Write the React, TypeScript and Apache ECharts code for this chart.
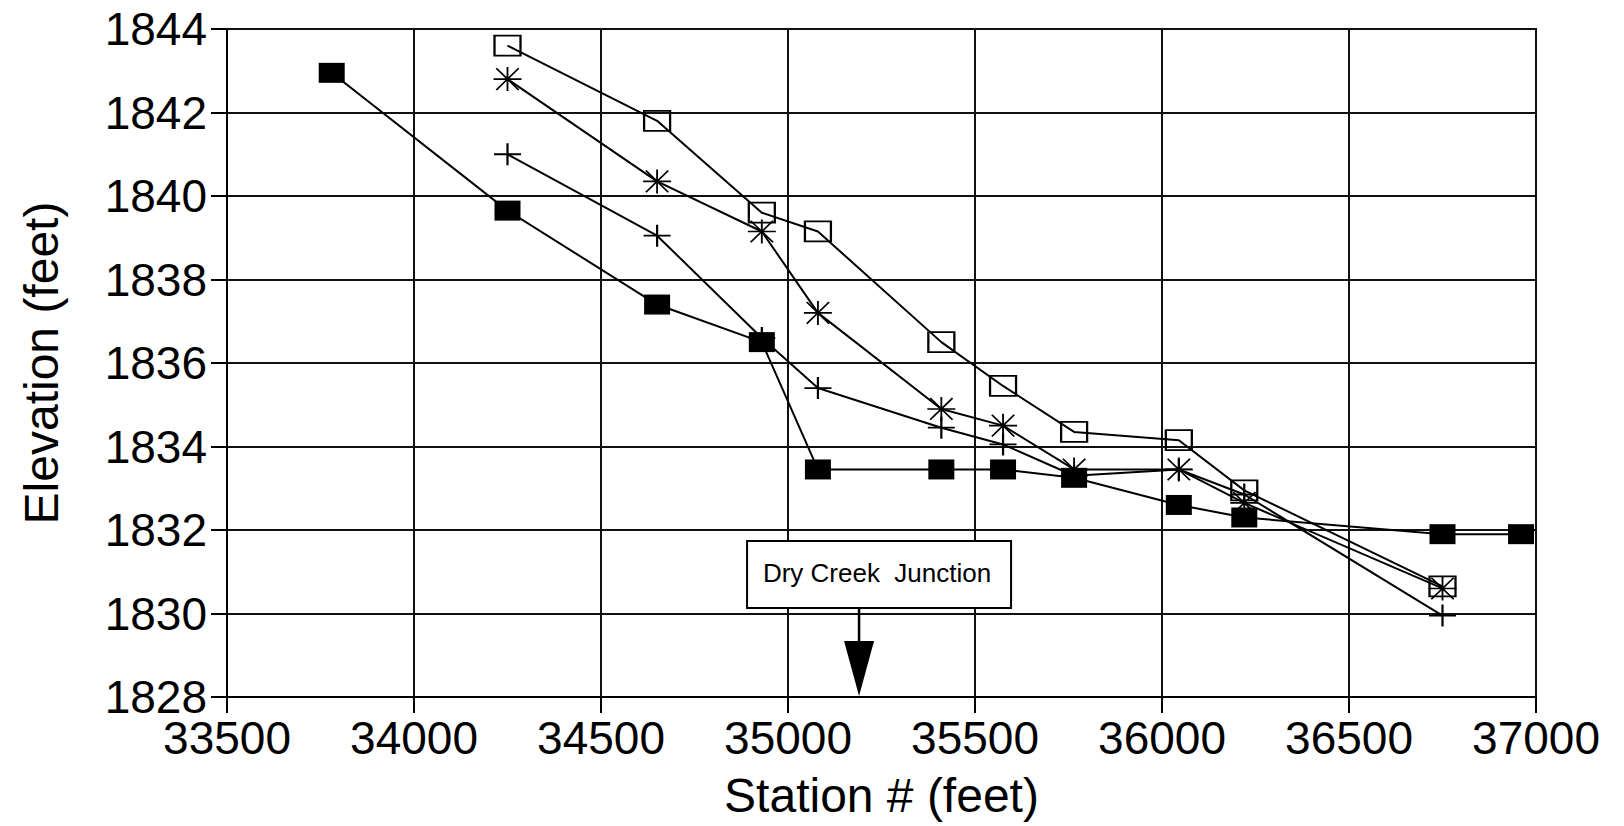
import React, { useEffect, useRef } from 'react';
import * as echarts from 'echarts';

// Station positions (feet) shared by the open-square, asterisk and plus profiles
const stations = [34250, 34650, 34930, 35080, 35410, 35575, 35765, 36045, 36220, 36750];
// Filled-square profile has two extra stations
const filledStations = [33780, 34250, 34650, 34930, 35080, 35410, 35575, 35765, 36045, 36220, 36750, 36960];
const filledElev = [1842.95, 1839.65, 1837.4, 1836.5, 1833.45, 1833.45, 1833.45, 1833.25, 1832.6, 1832.3, 1831.9, 1831.9];
const openElev = [1843.6, 1841.8, 1839.6, 1839.15, 1836.5, 1835.45, 1834.35, 1834.15, 1832.95, 1830.65];
const asteriskElev = [1842.8, 1840.35, 1839.15, 1837.2, 1834.9, 1834.5, 1833.45, 1833.45, 1832.65, 1830.6];
const plusElev = [1841.0, 1839.05, 1836.6, 1835.4, 1834.45, 1834.05, 1833.3, 1833.45, 1832.85, 1829.95];

const xMin = 33500;
const xMax = 37000;
const xStep = 500;
const yMin = 1828;
const yMax = 1844;
const yStep = 2;

const junctionLabel = 'Dry Creek  Junction';
const junctionStation = 35190;

const FONT = "'Liberation Sans', Arial, Helvetica, sans-serif";

export default function App() {
  const ref = useRef<HTMLDivElement>(null);

  useEffect(() => {
    if (!ref.current) return;
    const chart = echarts.init(ref.current, null, { renderer: 'svg' });
    const pair = (xs: number[], ys: number[]) => xs.map((x, i) => [x, ys[i]]);
    const lineStyle = { color: '#000', width: 2 };

    chart.setOption({
      animation: false,
      backgroundColor: '#fff',
      grid: {
        left: 227,
        right: 88,
        top: 29,
        bottom: 129,
        show: true,
        borderColor: '#000',
        borderWidth: 2,
        backgroundColor: 'transparent',
      },
      xAxis: {
        type: 'value',
        min: xMin,
        max: xMax,
        interval: xStep,
        name: 'Station # (feet)',
        nameLocation: 'middle',
        nameGap: 74,
        nameTextStyle: { fontSize: 48, color: '#000', fontFamily: FONT },
        axisLine: { show: true, onZero: false, lineStyle: { color: '#000', width: 2 } },
        axisTick: { show: true, length: 16, lineStyle: { color: '#000', width: 2 } },
        axisLabel: {
          fontSize: 46,
          color: '#000',
          fontFamily: FONT,
          margin: 18,
          formatter: (v: number) => String(v),
        },
        splitLine: { show: true, lineStyle: { color: '#111', width: 2 } },
      },
      yAxis: {
        type: 'value',
        min: yMin,
        max: yMax,
        interval: yStep,
        name: 'Elevation (feet)',
        nameLocation: 'middle',
        nameGap: 162,
        nameTextStyle: { fontSize: 48, color: '#000', fontFamily: FONT },
        axisLine: { show: true, onZero: false, lineStyle: { color: '#000', width: 2 } },
        axisTick: { show: true, length: 16, lineStyle: { color: '#000', width: 2 } },
        axisLabel: {
          fontSize: 46,
          color: '#000',
          fontFamily: FONT,
          margin: 20,
          formatter: (v: number) => String(v),
        },
        splitLine: { show: true, lineStyle: { color: '#111', width: 2 } },
      },
      series: [
        {
          name: 'Filled',
          type: 'line',
          data: pair(filledStations, filledElev),
          symbol: 'rect',
          symbolSize: [26, 20],
          itemStyle: { color: '#000' },
          lineStyle,
          z: 4,
        },
        {
          name: 'Open',
          type: 'line',
          data: pair(stations, openElev),
          symbol: 'rect',
          symbolSize: [26, 20],
          itemStyle: { color: 'rgba(0,0,0,0)', borderColor: '#000', borderWidth: 2 },
          lineStyle,
          z: 3,
        },
        {
          name: 'Asterisk',
          type: 'line',
          data: pair(stations, asteriskElev),
          symbol: 'path://M0 10L20 10M10 0L10 20M2 1L18 19M18 1L2 19',
          symbolSize: [28, 24],
          itemStyle: { color: 'none', borderColor: '#000', borderWidth: 1.7 },
          lineStyle,
          z: 3,
        },
        {
          name: 'Plus',
          type: 'line',
          data: pair(stations, plusElev),
          symbol: 'path://M0 10L20 10M10 0L10 20',
          symbolSize: [27, 22],
          itemStyle: { color: 'none', borderColor: '#000', borderWidth: 2 },
          lineStyle,
          z: 3,
        },
      ],
    });

    const [tx, ty] = chart.convertToPixel({ gridIndex: 0 }, [junctionStation, yMin]) as number[];
    chart.setOption({
      graphic: [
        {
          type: 'rect',
          z: 10,
          shape: { x: tx - 112, y: ty - 156, width: 264, height: 67 },
          style: { fill: '#fff', stroke: '#000', lineWidth: 2 },
        },
        {
          type: 'text',
          z: 11,
          x: tx + 18,
          y: ty - 124,
          style: {
            text: junctionLabel,
            fontSize: 26,
            fontFamily: FONT,
            fill: '#000',
            align: 'center',
            verticalAlign: 'middle',
          },
        },
        {
          type: 'line',
          z: 10,
          shape: { x1: tx, y1: ty - 89, x2: tx, y2: ty - 56 },
          style: { stroke: '#000', lineWidth: 2.5 },
        },
        {
          type: 'polygon',
          z: 10,
          shape: { points: [[tx - 15, ty - 56], [tx + 15, ty - 56], [tx, ty - 1]] },
          style: { fill: '#000' },
        },
      ],
    });

    return () => chart.dispose();
  }, []);

  return (
    <div
      ref={ref}
      style={{ position: 'absolute', left: 0, top: 0, width: 1624, height: 826 }}
    />
  );
}
